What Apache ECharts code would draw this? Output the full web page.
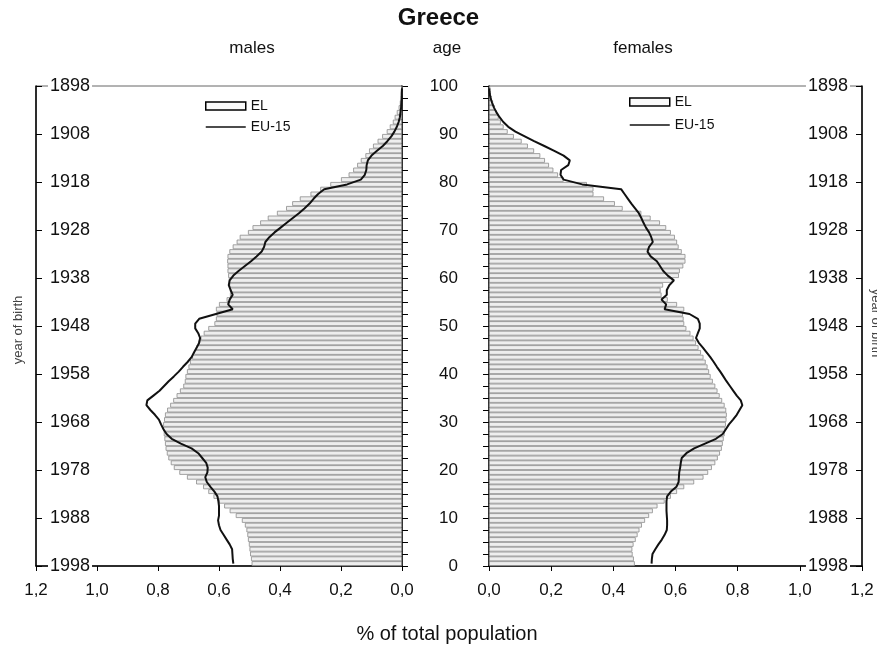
<!DOCTYPE html>
<html>
<head>
<meta charset="utf-8">
<script src="https://cdn.jsdelivr.net/npm/echarts@6/dist/echarts.min.js"></script>
<style>
html,body{margin:0;padding:0;background:#fff;}
#chart{width:877px;height:650px;}
</style>
</head>
<body>
<div id="chart"></div>
<script>
// Ages 0..99 (single years)
var ages = [];
for (var a = 0; a < 100; a++) ages.push(String(a));

var xTicks = [0, 0.2, 0.4, 0.6, 0.8, 1.0, 1.2];
var yearTicks = [1898, 1908, 1918, 1928, 1938, 1948, 1958, 1968, 1978, 1988, 1998];
var ageTicks = [0, 10, 20, 30, 40, 50, 60, 70, 80, 90, 100];

// Males, Greece (EL), % of total population, age 0..99
var maleEL = [
0.493,0.495,0.498,0.500,0.502,0.505,0.507,0.510,0.515,0.525,
0.545,0.565,0.583,0.600,0.618,0.635,0.652,0.675,0.705,0.730,
0.748,0.758,0.766,0.771,0.775,0.777,0.779,0.781,0.783,0.783,
0.780,0.777,0.770,0.760,0.750,0.739,0.728,0.717,0.712,0.710,
0.705,0.700,0.695,0.688,0.682,0.675,0.668,0.660,0.650,0.635,
0.615,0.610,0.608,0.610,0.600,0.575,0.564,0.564,0.566,0.568,
0.570,0.572,0.572,0.573,0.572,0.566,0.555,0.542,0.532,0.505,
0.490,0.465,0.440,0.410,0.380,0.360,0.335,0.300,0.268,0.235,
0.200,0.175,0.160,0.147,0.135,0.120,0.108,0.095,0.080,0.065,
0.050,0.040,0.030,0.024,0.017,0.011,0.007,0.004,0.002,0.001];

// Males, EU-15
var maleEU = [
0.553,0.555,0.556,0.557,0.565,0.575,0.585,0.595,0.600,0.603,
0.600,0.600,0.600,0.602,0.605,0.615,0.628,0.640,0.645,0.638,
0.637,0.642,0.655,0.668,0.690,0.725,0.755,0.772,0.782,0.790,
0.797,0.810,0.825,0.838,0.835,0.815,0.795,0.780,0.765,0.748,
0.732,0.718,0.703,0.690,0.682,0.673,0.665,0.662,0.668,0.678,
0.678,0.665,0.610,0.555,0.570,0.565,0.555,0.562,0.568,0.565,
0.553,0.535,0.515,0.495,0.477,0.460,0.452,0.448,0.435,0.418,
0.398,0.378,0.358,0.338,0.320,0.303,0.290,0.275,0.255,0.180,
0.135,0.122,0.117,0.116,0.112,0.100,0.082,0.063,0.048,0.035,
0.025,0.017,0.011,0.007,0.005,0.003,0.002,0.001,0.001,0.000];

// Females, Greece (EL)
var femaleEL = [
0.469,0.466,0.462,0.461,0.465,0.472,0.478,0.484,0.492,0.502,
0.515,0.527,0.542,0.565,0.585,0.605,0.628,0.660,0.690,0.705,
0.717,0.728,0.736,0.743,0.749,0.752,0.755,0.758,0.760,0.762,
0.764,0.765,0.763,0.758,0.750,0.742,0.735,0.728,0.720,0.713,
0.708,0.703,0.697,0.690,0.682,0.674,0.666,0.658,0.648,0.635,
0.628,0.626,0.624,0.628,0.605,0.575,0.555,0.552,0.560,0.590,
0.611,0.614,0.625,0.632,0.632,0.620,0.610,0.605,0.598,0.585,
0.570,0.550,0.520,0.490,0.430,0.405,0.370,0.336,0.336,0.315,
0.240,0.222,0.207,0.193,0.180,0.165,0.145,0.125,0.105,0.080,
0.060,0.047,0.038,0.031,0.025,0.019,0.013,0.009,0.006,0.004];

// Females, EU-15
var femaleEU = [
0.523,0.524,0.526,0.535,0.545,0.556,0.565,0.572,0.573,0.573,
0.572,0.571,0.571,0.571,0.573,0.585,0.603,0.610,0.611,0.612,
0.615,0.617,0.620,0.635,0.660,0.695,0.730,0.752,0.762,0.772,
0.785,0.797,0.806,0.815,0.810,0.797,0.786,0.775,0.764,0.754,
0.744,0.733,0.723,0.712,0.700,0.688,0.675,0.666,0.672,0.678,
0.678,0.672,0.645,0.565,0.570,0.555,0.572,0.572,0.580,0.595,
0.575,0.560,0.550,0.540,0.520,0.510,0.515,0.527,0.522,0.515,
0.505,0.497,0.490,0.482,0.470,0.458,0.447,0.436,0.425,0.300,
0.240,0.230,0.232,0.255,0.260,0.240,0.210,0.178,0.145,0.115,
0.085,0.062,0.046,0.034,0.024,0.016,0.010,0.005,0.002,0.001];

var FONT = '"Liberation Sans", Arial, sans-serif';

function pct(v) { return v.toFixed(1).replace('.', ','); }

function xAxisDef(gridIndex, inverse) {
  return {
    type: 'value', gridIndex: gridIndex, min: 0, max: 1.2, interval: 0.2, inverse: inverse,
    position: 'bottom',
    axisLine: { show: true, onZero: false, lineStyle: { color: '#000', width: 1.5 } },
    axisTick: { show: true, length: 5, lineStyle: { color: '#000', width: 1 } },
    axisLabel: { show: true, margin: 16, fontSize: 17, color: '#111', fontFamily: FONT, formatter: pct },
    splitLine: { show: false }
  };
}

function yearAxisDef(gridIndex, position) {
  return {
    type: 'value', gridIndex: gridIndex, min: 1898, max: 1998, interval: 10, inverse: true,
    position: position, z: 10,
    axisLine: { show: true, onZero: false, lineStyle: { color: '#000', width: 1.5 } },
    axisTick: { show: true, inside: true, length: 6, lineStyle: { color: '#000', width: 1 } },
    axisLabel: { show: true, inside: true, margin: 12, fontSize: 18, color: '#111', fontFamily: FONT,
      backgroundColor: '#fff', padding: [0, 2, 0, 2],
      formatter: function (v) { return String(Math.round(v)); } },
    splitLine: { show: false }
  };
}

function ageAxisDef(gridIndex, position, showLabel) {
  return {
    type: 'value', gridIndex: gridIndex, min: 0, max: 100, interval: 2.5,
    position: position,
    axisLine: { show: true, onZero: false, lineStyle: { color: '#000', width: 1.5 } },
    axisTick: { show: true, length: 6, lineStyle: { color: '#000', width: 1 } },
    axisLabel: { show: showLabel, margin: 31, fontSize: 17, color: '#111', fontFamily: FONT,
      formatter: function (v) { return (ageTicks.indexOf(v) >= 0) ? String(v) : ''; } },
    splitLine: { show: false }
  };
}

function catAxisDef(gridIndex, position) {
  return { type: 'category', gridIndex: gridIndex, data: ages, show: false, position: position, boundaryGap: true };
}

var barStyle = { color: '#eeeeee', borderColor: '#8c8c8c', borderWidth: 0.8 };

var legendData = [
  { name: 'EL', icon: 'rect', itemStyle: { color: '#fafafa', borderColor: '#000', borderWidth: 1.5 } },
  { name: 'EU-15', itemStyle: { color: 'rgba(0,0,0,0)', borderColor: 'rgba(0,0,0,0)', borderWidth: 0 },
    lineStyle: { color: '#111', width: 1.5 } }
];

var chart = echarts.init(document.getElementById('chart'), null, { renderer: 'canvas' });
chart.setOption({
  backgroundColor: '#fff',
  animation: false,
  textStyle: { fontFamily: FONT },
  grid: [
    { left: 36, right: 475, top: 86, bottom: 84, show: true, borderColor: '#666', borderWidth: 1, backgroundColor: 'transparent' },
    { left: 489, right: 15, top: 86, bottom: 84, show: true, borderColor: '#666', borderWidth: 1, backgroundColor: 'transparent' }
  ],
  xAxis: [ xAxisDef(0, true), xAxisDef(1, false) ],
  yAxis: [
    catAxisDef(0, 'left'),
    yearAxisDef(0, 'left'),
    ageAxisDef(0, 'right', false),
    catAxisDef(1, 'right'),
    ageAxisDef(1, 'left', true),
    yearAxisDef(1, 'right')
  ],
  legend: [
    { orient: 'vertical', left: 205, top: 99, padding: 0, itemWidth: 40, itemHeight: 8, itemGap: 7,
      textStyle: { fontSize: 14, color: '#111', fontFamily: FONT }, selectedMode: false, data: legendData },
    { orient: 'vertical', left: 629, top: 95, padding: 0, itemWidth: 40, itemHeight: 8, itemGap: 9,
      textStyle: { fontSize: 14, color: '#111', fontFamily: FONT }, selectedMode: false, data: legendData }
  ],
  series: [
    { name: 'EL', type: 'bar', xAxisIndex: 0, yAxisIndex: 0, data: maleEL, barCategoryGap: 0, itemStyle: barStyle, z: 2 },
    { name: 'EU-15', type: 'line', xAxisIndex: 0, yAxisIndex: 0, data: maleEU, symbol: 'none', smooth: false,
      lineStyle: { color: '#111', width: 2 }, itemStyle: { color: '#111' }, z: 3 },
    { name: 'EL', type: 'bar', xAxisIndex: 1, yAxisIndex: 3, data: femaleEL, barCategoryGap: 0, itemStyle: barStyle, z: 2 },
    { name: 'EU-15', type: 'line', xAxisIndex: 1, yAxisIndex: 3, data: femaleEU, symbol: 'none', smooth: false,
      lineStyle: { color: '#111', width: 2 }, itemStyle: { color: '#111' }, z: 3 }
  ],
  graphic: [
    { type: 'text', left: 'center', top: 6, style: { text: 'Greece', font: 'bold 24px ' + FONT, fill: '#111' } },
    { type: 'text', x: 252, y: 48, style: { text: 'males', font: '17px ' + FONT, fill: '#111', textAlign: 'center', textVerticalAlign: 'middle' } },
    { type: 'text', x: 447, y: 48, style: { text: 'age', font: '17px ' + FONT, fill: '#111', textAlign: 'center', textVerticalAlign: 'middle' } },
    { type: 'text', x: 643, y: 48, style: { text: 'females', font: '17px ' + FONT, fill: '#111', textAlign: 'center', textVerticalAlign: 'middle' } },
    { type: 'text', x: 447, y: 634, style: { text: '% of total population', font: '20px ' + FONT, fill: '#111', textAlign: 'center', textVerticalAlign: 'middle' } },
    { type: 'text', x: 18, y: 330, rotation: Math.PI / 2, style: { text: 'year of birth', font: '13px ' + FONT, fill: '#444', textAlign: 'center', textVerticalAlign: 'middle' } },
    { type: 'text', x: 876, y: 323, rotation: -Math.PI / 2, style: { text: 'year of birth', font: '13px ' + FONT, fill: '#444', textAlign: 'center', textVerticalAlign: 'middle' } }
  ]
});
</script>
</body>
</html>
